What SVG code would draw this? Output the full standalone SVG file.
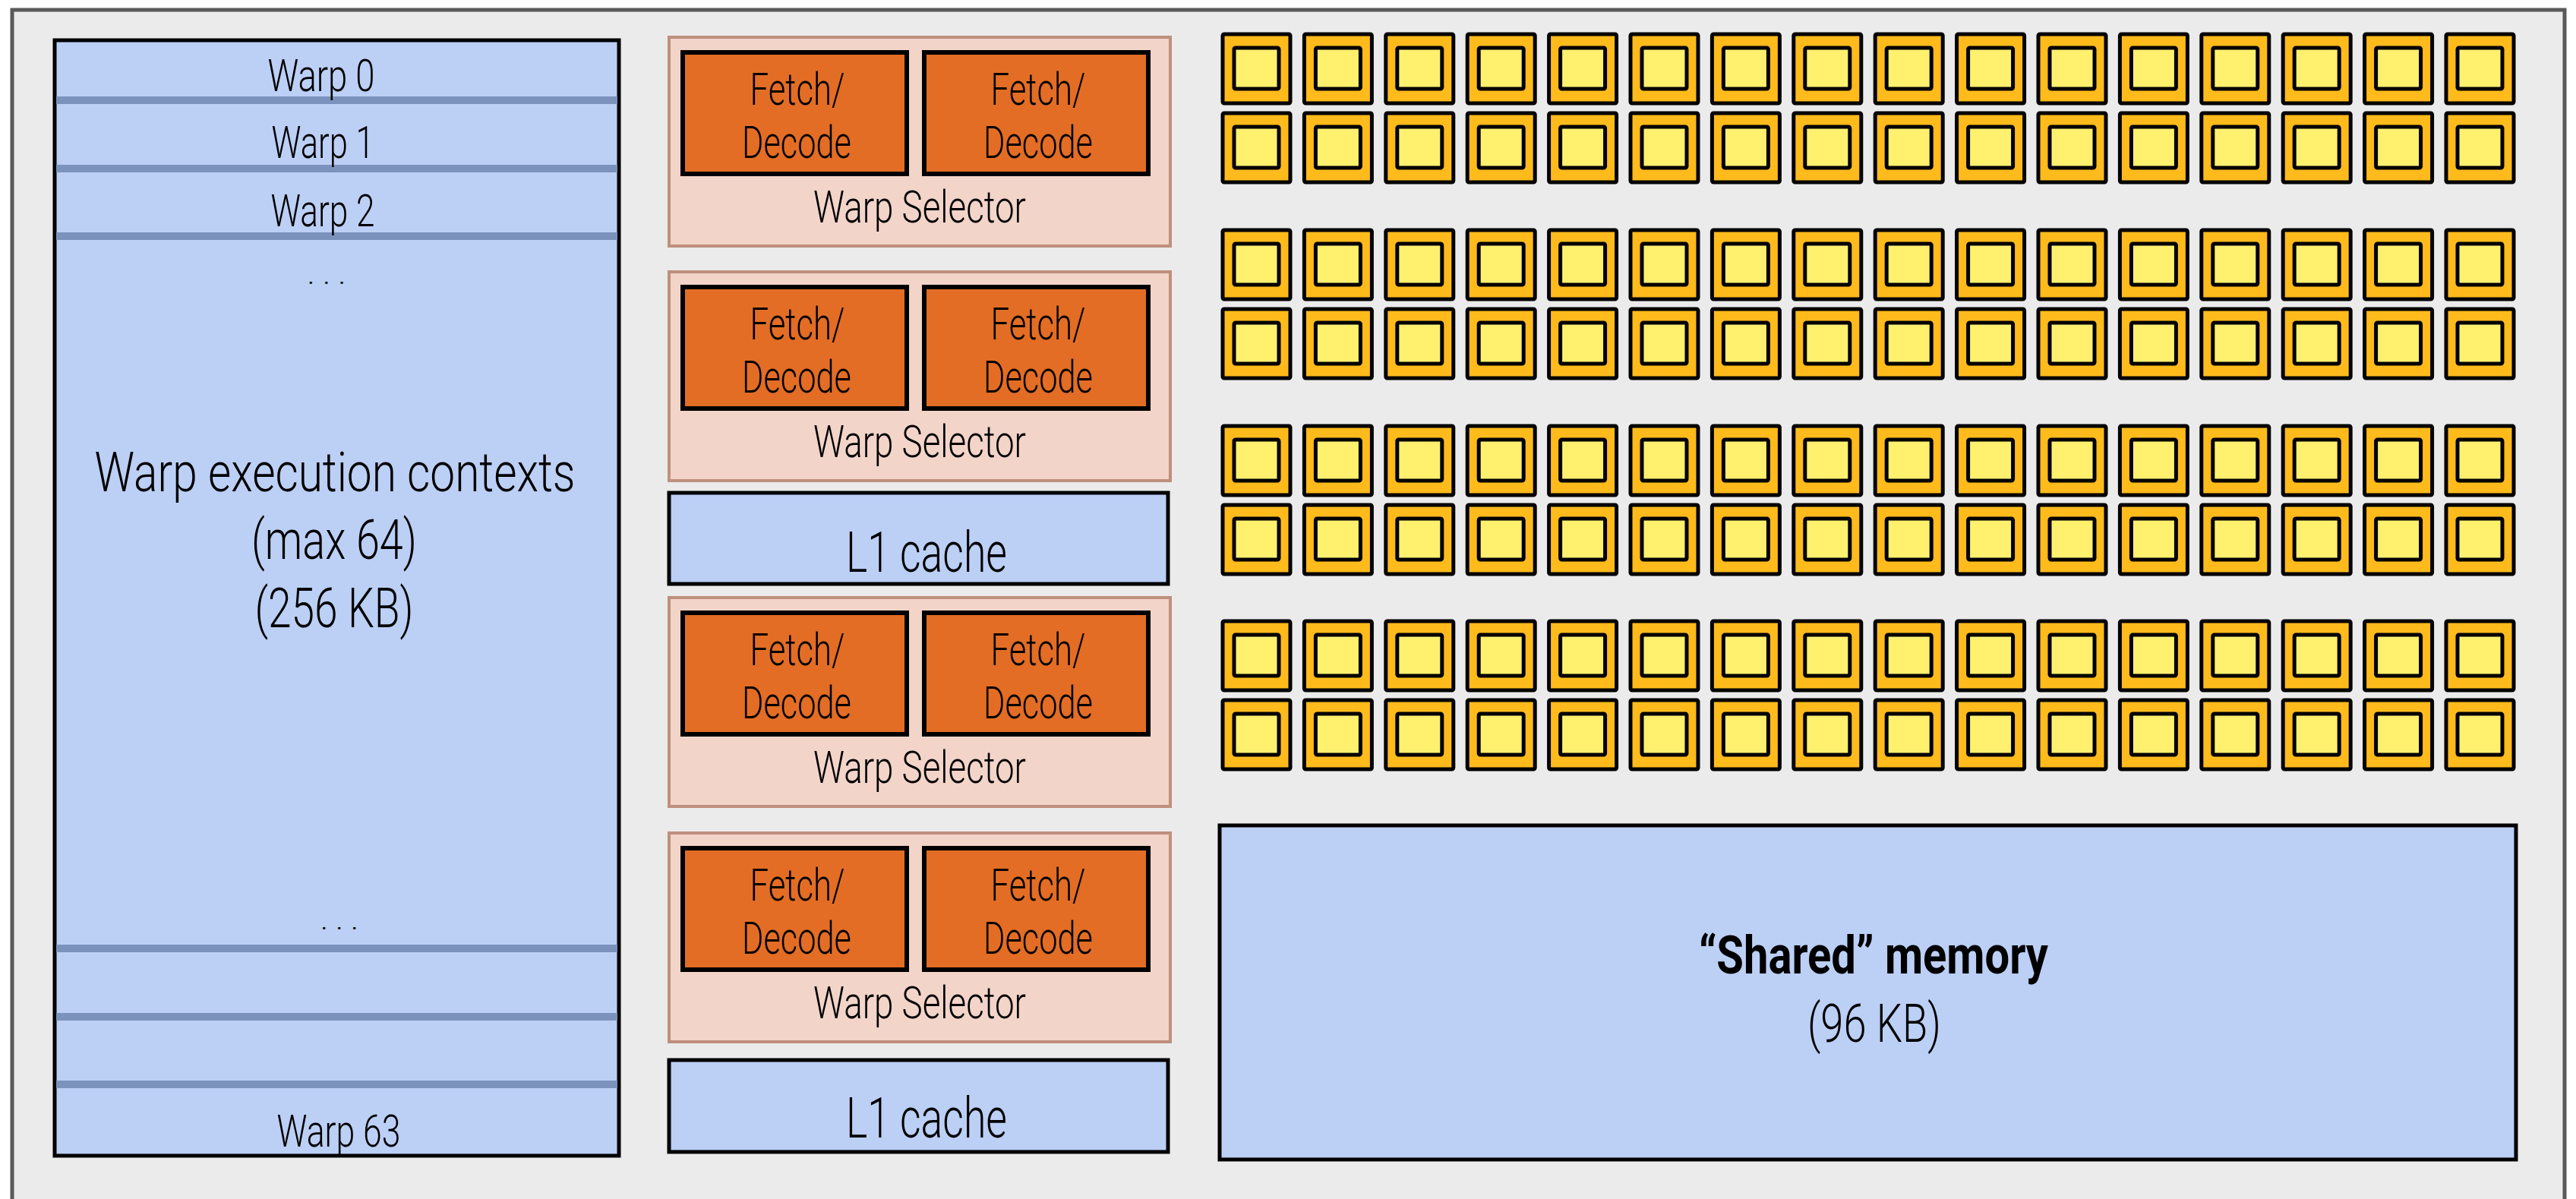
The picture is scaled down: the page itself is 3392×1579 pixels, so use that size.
<svg xmlns="http://www.w3.org/2000/svg" xmlns:xlink="http://www.w3.org/1999/xlink" width="3392" height="1579" viewBox="0 0 3392 1579">
<style>
.lbl{font-family:"Roboto","Liberation Sans",sans-serif;font-weight:300;fill:#000;text-anchor:middle}
.bold{font-family:"Roboto","Liberation Sans",sans-serif;font-weight:700;fill:#000;text-anchor:middle}
.blue{fill:#bccff5;stroke:#000;stroke-width:5}
.sep{fill:#7b93bc}
.panel{fill:#f2d4c9;stroke:#bf8f7e;stroke-width:4}
.fd{fill:#e36d24;stroke:#000;stroke-width:6}
.co{fill:#ffbb1c;stroke:#000;stroke-width:5}
.ci{fill:#fff06e;stroke:#000;stroke-width:5}
</style>
<defs>
<g id="core">
<rect class="co" x="0" y="0" width="89" height="91" rx="2"/>
<rect class="ci" x="15" y="18" width="59" height="54" rx="2"/>
</g>
<g id="core-row">
<use href="#core" x="1610"/><use href="#core" x="1717.4"/><use href="#core" x="1824.8"/><use href="#core" x="1932.2"/>
<use href="#core" x="2039.6"/><use href="#core" x="2147"/><use href="#core" x="2254.4"/><use href="#core" x="2361.8"/>
<use href="#core" x="2469.2"/><use href="#core" x="2576.6"/><use href="#core" x="2684"/><use href="#core" x="2791.4"/>
<use href="#core" x="2898.8"/><use href="#core" x="3006.2"/><use href="#core" x="3113.6"/><use href="#core" x="3221"/>
</g>
<g id="ws-panel">
<rect class="panel" x="881" y="0" width="660" height="275"/>
<rect class="fd" x="899" y="20" width="295" height="160"/>
<rect class="fd" x="1217" y="20" width="295" height="160"/>
<text class="lbl" x="1050" y="89" font-size="59" textLength="125" lengthAdjust="spacingAndGlyphs">Fetch/</text>
<text class="lbl" x="1049" y="159" font-size="59" textLength="144" lengthAdjust="spacingAndGlyphs">Decode</text>
<text class="lbl" x="1367" y="89" font-size="59" textLength="125" lengthAdjust="spacingAndGlyphs">Fetch/</text>
<text class="lbl" x="1367" y="159" font-size="59" textLength="144" lengthAdjust="spacingAndGlyphs">Decode</text>
<text class="lbl" x="1211" y="244" font-size="59" textLength="280" lengthAdjust="spacingAndGlyphs">Warp Selector</text>
</g>
</defs>
<rect x="0" y="0" width="3392" height="1579" fill="#ffffff"/>
<g id="frame">
<rect x="16" y="13" width="3361" height="1600" fill="#ebebeb" stroke="#595959" stroke-width="5"/>
</g>
<g id="warp-contexts">
<rect class="blue" x="72" y="53" width="743" height="1469"/>
<rect class="sep" x="74" y="127" width="739" height="10"/>
<rect class="sep" x="74" y="217" width="739" height="10"/>
<rect class="sep" x="74" y="306" width="739" height="10"/>
<rect class="sep" x="74" y="1244" width="739" height="10"/>
<rect class="sep" x="74" y="1334" width="739" height="10"/>
<rect class="sep" x="74" y="1423" width="739" height="10"/>
<text class="lbl" x="423" y="120" font-size="59" textLength="141" lengthAdjust="spacingAndGlyphs">Warp 0</text>
<text class="lbl" x="425" y="208" font-size="59" textLength="135" lengthAdjust="spacingAndGlyphs">Warp 1</text>
<text class="lbl" x="425" y="298" font-size="59" textLength="137" lengthAdjust="spacingAndGlyphs">Warp 2</text>
<text class="lbl" x="430" y="374" font-size="40" textLength="51" lengthAdjust="spacingAndGlyphs">. . .</text>
<text class="lbl" x="441" y="647" font-size="73" textLength="633" lengthAdjust="spacingAndGlyphs">Warp execution contexts</text>
<text class="lbl" x="440" y="736" font-size="73" textLength="218" lengthAdjust="spacingAndGlyphs">(max 64)</text>
<text class="lbl" x="440" y="826" font-size="73" textLength="209" lengthAdjust="spacingAndGlyphs">(256 KB)</text>
<text class="lbl" x="447" y="1224" font-size="40" textLength="50" lengthAdjust="spacingAndGlyphs">. . .</text>
<text class="lbl" x="446" y="1510" font-size="59" textLength="163" lengthAdjust="spacingAndGlyphs">Warp 63</text>
</g>
<g id="warp-selector-1"><use href="#ws-panel" y="49"/></g>
<g id="warp-selector-2"><use href="#ws-panel" y="358"/></g>
<g id="l1-cache-1">
<rect class="blue" x="881" y="649" width="657" height="120"/>
<text class="lbl" x="1220" y="753" font-size="75" textLength="212" lengthAdjust="spacingAndGlyphs">L1 cache</text>
</g>
<g id="warp-selector-3"><use href="#ws-panel" y="787"/></g>
<g id="warp-selector-4"><use href="#ws-panel" y="1097"/></g>
<g id="l1-cache-2">
<rect class="blue" x="881" y="1396" width="657" height="121"/>
<text class="lbl" x="1220" y="1498" font-size="75" textLength="212" lengthAdjust="spacingAndGlyphs">L1 cache</text>
</g>
<g id="cores">
<use id="core-row-1" href="#core-row" y="45"/>
<use id="core-row-2" href="#core-row" y="149"/>
<use id="core-row-3" href="#core-row" y="303"/>
<use id="core-row-4" href="#core-row" y="407"/>
<use id="core-row-5" href="#core-row" y="561"/>
<use id="core-row-6" href="#core-row" y="665"/>
<use id="core-row-7" href="#core-row" y="818"/>
<use id="core-row-8" href="#core-row" y="922"/>
</g>
<g id="shared-memory">
<rect class="blue" x="1606" y="1087" width="1707" height="440"/>
<text class="bold" x="2467" y="1282" font-size="70" textLength="460" lengthAdjust="spacingAndGlyphs">“Shared” memory</text>
<text class="lbl" x="2468" y="1372" font-size="70" textLength="176" lengthAdjust="spacingAndGlyphs">(96 KB)</text>
</g>
<g id="connectors"></g>
</svg>
